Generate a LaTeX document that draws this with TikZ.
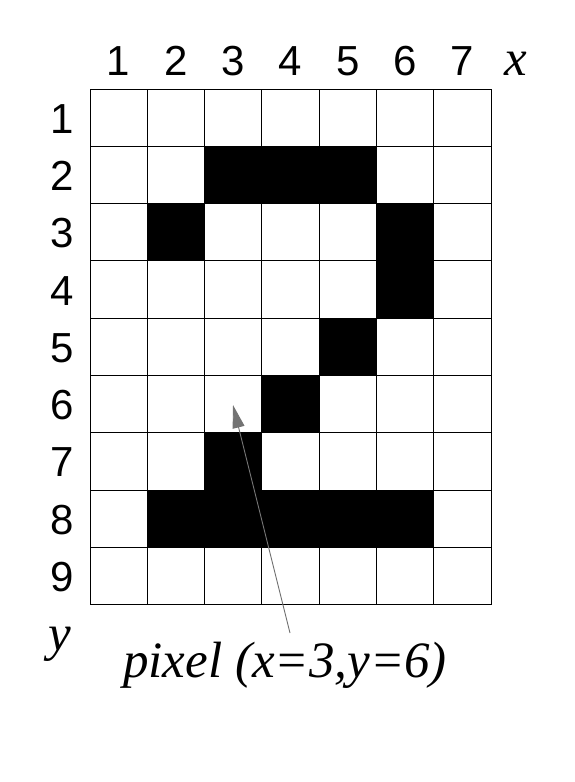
\documentclass[tikz,border=0pt]{standalone}
\usepackage{fontspec}
\setmainfont{Liberation Serif}
\setsansfont{Liberation Sans}
\usetikzlibrary{arrows.meta}
\tikzset{
  numlbl/.style={font=\sffamily\fontsize{42}{42}\selectfont, inner sep=0pt, anchor=base},
  axlbl/.style={font=\itshape\fontsize{51}{51}\selectfont, inner sep=0pt, anchor=base},
  gridline/.style={line width=1pt, black},
  pixfill/.style={fill=black, draw=none},
  pointer/.style={draw=gray!90!black, line width=0.9pt, -{Triangle[length=23pt,width=12pt]}}
}
\begin{document}
\begin{tikzpicture}[x=1pt,y=-1pt]
\useasboundingbox (0,0) rectangle (574,782);
\def\cs{57.3}
\def\ox{90}
\def\oy{89}
% black pixels (col,row)
\foreach \c/\r in {3/2,4/2,5/2,2/3,6/3,6/4,5/5,4/6,3/7,2/8,3/8,4/8,5/8,6/8}{
  \fill[pixfill] ({\ox+(\c-1)*\cs},{\oy+(\r-1)*\cs}) rectangle ({\ox+\c*\cs},{\oy+\r*\cs});
}
% grid
\foreach \i in {0,...,7}{
  \draw[gridline] ({\ox+\i*\cs},\oy) -- ({\ox+\i*\cs},{\oy+9*\cs});
}
\foreach \j in {0,...,9}{
  \draw[gridline] (\ox,{\oy+\j*\cs}) -- ({\ox+7*\cs},{\oy+\j*\cs});
}
% column labels
\foreach \c in {1,...,7}{
  \node[numlbl] (col\c) at ({\ox+(\c-0.5)*\cs},75) {\c};
}
% row labels
\foreach \r in {1,...,9}{
  \node[numlbl] (row\r) at (62,{\oy+(\r-0.5)*\cs+15.5}) {\r};
}
\node[axlbl] (xax) at (516,75) {x};
\node[axlbl] (yax) at (60,650) {y};
\node[axlbl] (pix) at (285,677) {pixel (x=3,y=6)};
\coordinate (tail) at (290,633);
\coordinate (tip) at (233,405);
\draw[pointer] (tail) -- (tip);
\end{tikzpicture}
\end{document}
